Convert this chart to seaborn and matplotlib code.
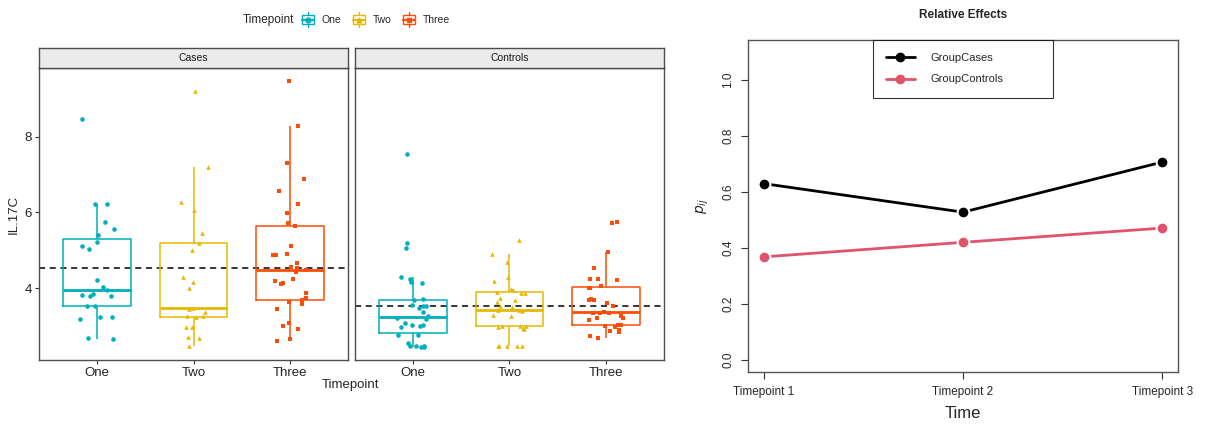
import numpy as np
import pandas as pd
import matplotlib
matplotlib.use("Agg")
import matplotlib.pyplot as plt
from matplotlib.lines import Line2D
from matplotlib.patches import Rectangle
from matplotlib.legend_handler import HandlerBase
import seaborn as sns

# ---- data ----
timepoints = ["One", "Two", "Three"]
groups = ["Cases", "Controls"]

cases_one = [8.47, 6.23, 6.21, 5.74, 5.55, 5.39, 5.22, 5.11, 5.04, 4.21, 4.02, 3.96,
             3.83, 3.82, 3.80, 3.78, 3.53, 3.52, 3.23, 3.19, 3.23, 2.66, 2.69]
cases_two = [9.19, 7.19, 6.27, 6.07, 5.46, 5.19, 5.00, 4.28, 4.17, 3.99, 3.47, 3.44,
             3.36, 3.27, 3.27, 3.23, 2.97, 2.98, 2.72, 2.68, 2.48]
cases_three = [9.46, 8.29, 7.31, 6.89, 6.56, 6.21, 5.99, 5.72, 5.64, 5.11, 4.89, 4.87,
               4.86, 4.67, 4.55, 4.54, 4.48, 4.43, 4.19, 4.14, 4.23, 4.10, 3.86, 3.73,
               3.68, 3.63, 3.58, 3.45, 3.01, 3.07, 2.91, 2.65, 2.61]
controls_one = [7.54, 5.18, 5.05, 4.30, 4.25, 4.17, 4.12, 3.70, 3.68, 3.55, 3.53, 3.52,
                3.47, 3.38, 3.27, 3.21, 3.19, 3.07, 3.03, 3.02, 3.00, 2.96, 2.76, 2.76,
                2.56, 2.46, 2.46, 2.46, 2.45, 2.45]
controls_two = [5.26, 4.91, 4.68, 4.30, 4.18, 3.97, 3.96, 3.88, 3.87, 3.90, 3.73, 3.68,
                3.64, 3.53, 3.49, 3.42, 3.43, 3.40, 3.29, 3.25, 3.00, 3.00, 3.00, 2.97,
                2.94, 2.92, 2.46, 2.46, 2.46, 2.46, 2.46]
controls_three = [5.73, 5.75, 4.96, 4.52, 4.24, 4.24, 4.22, 4.01, 4.00, 4.05, 3.70, 3.69,
                  3.68, 3.61, 3.53, 3.37, 3.35, 3.35, 3.34, 3.25, 3.21, 3.20, 3.16, 3.03,
                  3.02, 3.01, 2.98, 2.88, 2.86, 2.84, 2.74, 2.68]
group_means = [4.53, 3.52]

rel_time = [1, 2, 3]
rel_time_labels = ["Timepoint 1", "Timepoint 2", "Timepoint 3"]
rel_groups = ["GroupCases", "GroupControls"]
rel_cases = [0.630, 0.528, 0.707]
rel_controls = [0.368, 0.420, 0.471]

colors = ["#00AFBB", "#E7B800", "#FC4E07"]
markers = ["o", "^", "s"]
rel_colors = ["black", "#DF536B"]

values = {("Cases", "One"): cases_one, ("Cases", "Two"): cases_two,
          ("Cases", "Three"): cases_three, ("Controls", "One"): controls_one,
          ("Controls", "Two"): controls_two, ("Controls", "Three"): controls_three}
rows = []
for (g, t), vals in values.items():
    for v in vals:
        rows.append((g, t, v))
df = pd.DataFrame(rows, columns=["Group", "Timepoint", "IL.17C"])

rel_df = pd.DataFrame({
    "Time": rel_time * 2,
    "p": rel_cases + rel_controls,
    "Group": [rel_groups[0]] * 3 + [rel_groups[1]] * 3,
})

sns.set_style("white")
plt.rcParams["font.family"] = ["Liberation Sans", "DejaVu Sans"]

W, H = 1213, 430
fig = plt.figure(figsize=(W / 100, H / 100), dpi=100)


def px(x0, y0, x1, y1):
    return [x0 / W, 1 - y1 / H, (x1 - x0) / W, (y1 - y0) / H]


np.random.seed(7)
panel_x = [(39, 348), (355, 664)]
edge = "#4D4D4D"
for i, g in enumerate(groups):
    x0, x1 = panel_x[i]
    ax = fig.add_axes(px(x0, 68, x1, 360))
    sub = df[df["Group"] == g]
    sns.boxplot(data=sub, x="Timepoint", y="IL.17C", order=timepoints,
                hue="Timepoint", hue_order=timepoints, palette=colors,
                fill=False, width=0.7, showfliers=False, legend=False,
                linewidth=1.1, medianprops={"linewidth": 2.0},
                capprops={"visible": False}, ax=ax)
    ax.axhline(group_means[i], color="black", ls=(0, (4, 3)), lw=1.1, zorder=1)
    for t, c, m in zip(timepoints, colors, markers):
        sns.stripplot(data=sub[sub["Timepoint"] == t], x="Timepoint", y="IL.17C",
                      order=timepoints, color=c, marker=m, size=3.3, jitter=0.18,
                      linewidth=0, ax=ax, zorder=3)
    ax.set_xlim(-0.6, 2.6)
    ax.set_ylim(2.10, 9.81)
    ax.set_xlabel("")
    ax.set_ylabel("")
    ax.set_yticks([4, 6, 8])
    ax.tick_params(axis="both", length=3, width=0.8, color="#333333",
                   labelsize=9.5, labelcolor="#222222", pad=2, bottom=True, left=True)
    if i == 1:
        ax.tick_params(axis="y", left=False, labelleft=False)
    for s in ax.spines.values():
        s.set_color(edge)
        s.set_linewidth(1.0)
    # facet strip
    sax = fig.add_axes(px(x0, 48, x1, 68))
    sax.set_facecolor("#EBEBEB")
    sax.set_xticks([])
    sax.set_yticks([])
    for s in sax.spines.values():
        s.set_color(edge)
        s.set_linewidth(1.0)
    sax.text(0.5, 0.5, g, ha="center", va="center", fontsize=7.5, color="#1A1A1A",
             transform=sax.transAxes)

fig.text(351 / W, 1 - 385 / H, "Timepoint", ha="center", va="center", fontsize=9.5)
fig.text(14 / W, 1 - 214 / H, "IL.17C", ha="center", va="center", fontsize=9.5,
         rotation=90)


class BoxKey(HandlerBase):
    def create_artists(self, legend, orig_handle, xdescent, ydescent, width, height,
                       fontsize, trans):
        c = orig_handle.get_color()
        cx = -xdescent + width / 2
        cy = -ydescent + height / 2
        bw, bh = width * 0.75, height * 0.9
        art = [
            Line2D([cx, cx], [cy - height * 0.8, cy - bh / 2], color=c, lw=1.0),
            Line2D([cx, cx], [cy + bh / 2, cy + height * 0.8], color=c, lw=1.0),
            Rectangle((cx - bw / 2, cy - bh / 2), bw, bh, fill=False, ec=c, lw=1.0),
            Line2D([cx - bw / 2, cx + bw / 2], [cy, cy], color=c, lw=1.6),
            Line2D([cx], [cy], marker=orig_handle.get_marker(), color=c, ms=3.5, lw=0),
        ]
        for a in art:
            a.set_transform(trans)
        return art


handles = [Line2D([], [], color=c, marker=m) for c, m in zip(colors, markers)]
fig.text(243 / W, 1 - 20 / H, "Timepoint", ha="left", va="center", fontsize=8.5)
fig.legend(handles, timepoints, loc="center left", bbox_to_anchor=(300 / W, 1 - 20 / H),
           ncol=3, frameon=False, fontsize=7.5, handlelength=1.5, handleheight=1.0,
           handletextpad=0.6, columnspacing=0.9, borderaxespad=0, borderpad=0,
           handler_map={Line2D: BoxKey()})

# ---- relative effects panel ----
rax = fig.add_axes(px(748, 40, 1178, 372))
sns.lineplot(data=rel_df, x="Time", y="p", hue="Group", hue_order=rel_groups,
             palette=rel_colors, marker="o", markersize=8.5,
             markeredgecolor="white", markeredgewidth=1.5, linewidth=2.0,
             legend=False, ax=rax)
rax.set_xlim(0.92, 3.08)
rax.set_ylim(-0.044, 1.144)
rax.set_xticks(rel_time)
rax.set_xticklabels(rel_time_labels)
rax.set_yticks([0.0, 0.2, 0.4, 0.6, 0.8, 1.0])
rax.set_yticklabels(["0.0", "0.2", "0.4", "0.6", "0.8", "1.0"], rotation=90, va="center")
rax.tick_params(axis="both", length=5, width=0.8, color="#333333", labelsize=8.5,
                pad=5, bottom=True, left=True)
rax.set_xlabel("Time", fontsize=12, labelpad=6)
rax.set_ylabel(r"$p_{ij}$", fontsize=10, labelpad=8)
for s in rax.spines.values():
    s.set_color("#555555")
    s.set_linewidth(1.0)
rax.set_title("Relative Effects", fontsize=8.5, fontweight="bold", pad=16)
rel_handles = [Line2D([], [], color=c, lw=2.0, marker="o", ms=6) for c in rel_colors]
leg = rax.legend(rel_handles, rel_groups, loc="upper left",
                 bbox_to_anchor=(0.29, 0, 0.419, 1.0),
                 mode="expand", frameon=True, fancybox=False, edgecolor="black",
                 fontsize=8, borderaxespad=0, handlelength=2.6, handletextpad=1.4,
                 borderpad=1.2, labelspacing=1.0)
leg.get_frame().set_linewidth(0.8)

fig.savefig("out.png", dpi=100)
